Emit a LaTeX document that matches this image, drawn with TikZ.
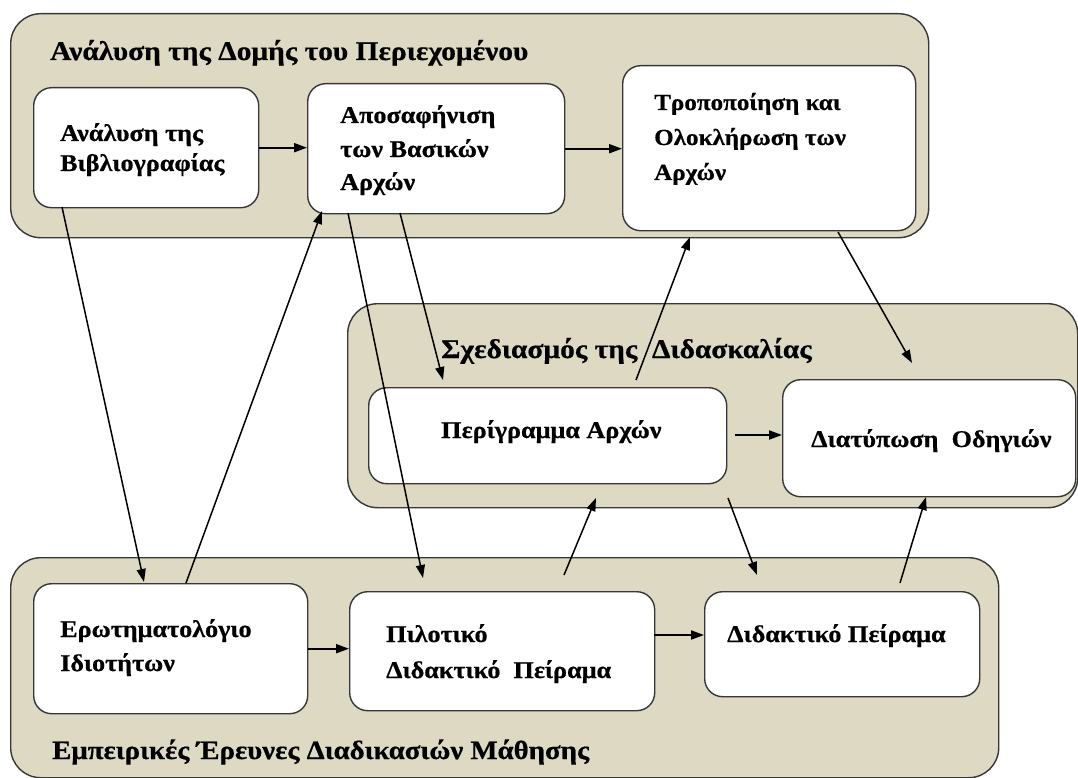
\documentclass[tikz,border=0pt]{standalone}
\usepackage{fontspec}
\setmainfont{Liberation Serif}[FakeStretch=1.09, BoldFeatures={FakeBold=0.6}]
\usetikzlibrary{arrows.meta}
\definecolor{tanbg}{RGB}{221,217,195}
\definecolor{edgec}{RGB}{55,55,55}
\begin{document}
\begin{tikzpicture}[x=1pt,y=-1pt,
  container/.style={draw=edgec, line width=1.4pt, fill=tanbg, rounded corners=30pt, anchor=north west, inner sep=0pt},
  box/.style={draw=edgec, line width=1.4pt, fill=white, rounded corners=18pt, anchor=north west, inner sep=0pt},
  txt/.style={anchor=base west, inner sep=0pt, font=\fontsize{24}{28}\selectfont\bfseries},
  txtc/.style={txt, font=\fontsize{23}{27}\selectfont\bfseries},
  ttl/.style={anchor=base west, inner sep=0pt, font=\fontsize{27}{31}\selectfont\bfseries},
  arr/.style={-{Triangle[length=13pt,width=9pt]}, line width=1.5pt, black},
  harr/.style={arr, line width=2pt}]
\useasboundingbox (0,0) rectangle (1078,778);
\clip (0,0) rectangle (1078,778);
% containers
\node[container, minimum width=918pt, minimum height=224pt] (top) at (10,13) {};
\node[container, minimum width=730pt, minimum height=204pt] (mid) at (347,303) {};
\node[container, minimum width=988pt, minimum height=220pt] (bot) at (10,557) {};
% boxes
\node[box, minimum width=225pt, minimum height=120pt] (A) at (33,87) {};
\node[box, minimum width=257pt, minimum height=130pt] (B) at (307,83) {};
\node[box, minimum width=293pt, minimum height=165pt] (C) at (622,65) {};
\node[box, minimum width=358pt, minimum height=96pt] (D) at (368,387) {};
\node[box, minimum width=293pt, minimum height=117pt] (E) at (782,379) {};
\node[box, minimum width=274pt, minimum height=130pt] (F) at (33,583) {};
\node[box, minimum width=305pt, minimum height=119pt] (G) at (349,591) {};
\node[box, minimum width=275pt, minimum height=105pt] (H) at (704,591) {};
% titles
\node[ttl] (ttop) at (50,60) {Ανάλυση της Δομής του Περιεχομένου};
\node[ttl] (tmid) at (441,358) {Σχεδιασμός της \ Διδασκαλίας};
\node[ttl, font=\fontsize{26.4}{31}\selectfont\bfseries] (tbot) at (52,759) {Εμπειρικές Έρευνες Διαδικασιών Μάθησης};
% box texts
\node[txt] (a1) at (60,141) {Ανάλυση της};
\node[txt] (a2) at (60,171) {Βιβλιογραφίας};
\node[txt] (b1) at (340,123) {Αποσαφήνιση};
\node[txt] (b2) at (340,157) {των Βασικών};
\node[txt] (b3) at (340,190) {Αρχών};
\node[txtc] (c1) at (654,110) {Τροποποίηση και};
\node[txtc] (c2) at (654,145) {Ολοκλήρωση των};
\node[txtc] (c3) at (654,180) {Αρχών};
\node[txt] (d1) at (441,438) {Περίγραμμα Αρχών};
\node[txt] (e1) at (811,447) {Διατύπωση \ Οδηγιών};
\node[txt] (f1) at (60,637) {Ερωτηματολόγιο};
\node[txt] (f2) at (60,671) {Ιδιοτήτων};
\node[txt] (g1) at (386,642) {Πιλοτικό};
\node[txt] (g2) at (386,678) {Διδακτικό \ Πείραμα};
\node[txt] (h1) at (727,642) {Διδακτικό Πείραμα};
% connector end points
\coordinate (pA1) at (62,207);
\coordinate (pF1) at (144,582);
\coordinate (pF2) at (186,583);
\coordinate (pB1) at (322,211);
\coordinate (pB2) at (348,213);
\coordinate (pG1) at (423,578);
\coordinate (pB3) at (400,213);
\coordinate (pD1) at (443,380);
\coordinate (pD2) at (636,380);
\coordinate (pC1) at (690,237);
\coordinate (pC2) at (838,232);
\coordinate (pE1) at (912,363);
\coordinate (pD5) at (735,435);
\coordinate (pG2) at (564,575);
\coordinate (pD3) at (596,498);
\coordinate (pD4) at (728,498);
\coordinate (pH1) at (757,575);
\coordinate (pH2) at (900,583);
\coordinate (pE2) at (926,497);
\coordinate (pG3) at (654,635);
% connectors
\draw[harr] (A.east) -- (B.west |- A.east);
\draw[harr] (B.east) -- (C.west |- B.east);
\draw[harr] (F.east) -- (G.west |- F.east);
\draw[harr] (pG3) -- (H.west |- pG3);
\draw[harr] (pD5) -- (E.west |- pD5);
\draw[arr] (pA1) -- (pF1);
\draw[arr] (pF2) -- (pB1);
\draw[arr] (pB2) -- (pG1);
\draw[arr] (pB3) -- (pD1);
\draw[arr] (pD2) -- (pC1);
\draw[arr] (pC2) -- (pE1);
\draw[arr] (pG2) -- (pD3);
\draw[arr] (pD4) -- (pH1);
\draw[arr] (pH2) -- (pE2);
\end{tikzpicture}
\end{document}
